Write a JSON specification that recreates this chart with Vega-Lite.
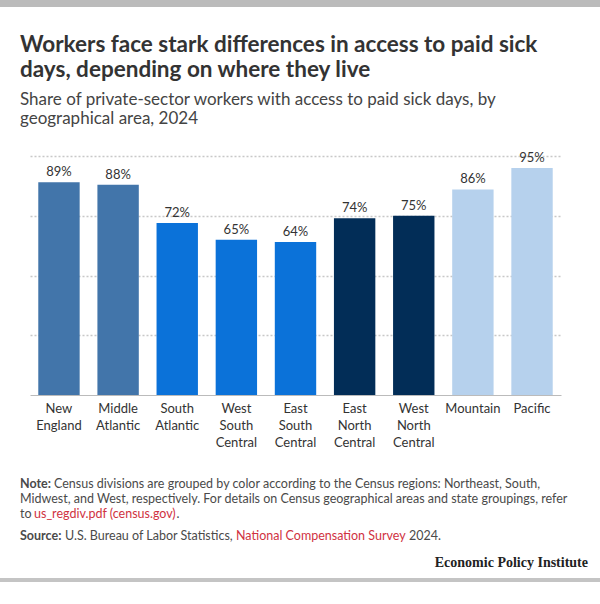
{
  "$schema": "https://vega.github.io/schema/vega-lite/v6.json",
  "width": 531,
  "height": 239,
  "autosize": {"type": "none"},
  "padding": {"left": 30, "top": 156, "right": 39, "bottom": 209},
  "background": "white",
  "title": {
    "text": ["Workers face stark differences in access to paid sick", "days, depending on where they live"],
    "subtitle": ["Share of private-sector workers with access to paid sick days, by", "geographical area, 2024"],
    "anchor": "start",
    "frame": "group",
    "dx": -10,
    "offset": -127,
    "font": "Lato",
    "fontSize": 22.5,
    "fontWeight": "bold",
    "color": "#333333",
    "lineHeight": 25,
    "subtitleFont": "Lato",
    "subtitleFontSize": 17,
    "subtitleColor": "#444444",
    "subtitleLineHeight": 19,
    "subtitlePadding": 11
  },
  "layer": [
    {
      "data": {"name": "divisions", "values": [
        {"division": "New England", "region": "Northeast", "share": 0.89},
        {"division": "Middle Atlantic", "region": "Northeast", "share": 0.88},
        {"division": "South Atlantic", "region": "South", "share": 0.72},
        {"division": "West South Central", "region": "South", "share": 0.65},
        {"division": "East South Central", "region": "South", "share": 0.64},
        {"division": "East North Central", "region": "Midwest", "share": 0.74},
        {"division": "West North Central", "region": "Midwest", "share": 0.75},
        {"division": "Mountain", "region": "West", "share": 0.86},
        {"division": "Pacific", "region": "West", "share": 0.95}
      ]},
      "encoding": {
        "x": {
          "field": "division",
          "type": "nominal",
          "sort": null,
          "scale": {"paddingInner": 0.3, "paddingOuter": 0.14},
          "axis": {
            "title": null,
            "labelAngle": 0,
            "labelExpr": "split(datum.value, ' ')",
            "labelFont": "Lato",
            "labelFontSize": 13,
            "labelColor": "#333333",
            "labelLineHeight": 17,
            "labelPadding": 7,
            "ticks": false,
            "domainColor": "#bbbbbb",
            "domainWidth": 1,
            "grid": false
          }
        },
        "y": {
          "field": "share",
          "type": "quantitative",
          "scale": {"domain": [0, 1], "nice": false},
          "axis": {
            "title": null,
            "labels": false,
            "ticks": false,
            "domain": false,
            "values": [0.25, 0.5, 0.75, 1],
            "grid": true,
            "gridColor": "#c8c8c8",
            "gridDash": [2, 2],
            "gridWidth": 1.5
          }
        }
      },
      "layer": [
        {
          "mark": {"type": "bar"},
          "encoding": {
            "color": {
              "field": "region",
              "type": "nominal",
              "scale": {
                "domain": ["Northeast", "South", "Midwest", "West"],
                "range": ["#4275aa", "#0b72d9", "#022d57", "#b6d1ed"]
              },
              "legend": null
            }
          }
        },
        {
          "mark": {"type": "text", "baseline": "alphabetic", "dy": -6, "font": "Lato", "fontSize": 13, "color": "#333333"},
          "encoding": {
            "text": {"field": "share", "type": "quantitative", "format": ".0%"}
          }
        }
      ]
    },
    {
      "data": {"values": [{}]},
      "layer": [
        {"mark": {"type": "rect", "x": -30, "x2": 570, "y": -156, "y2": -149, "color": "#bbbbbb"}, "encoding": {}},
        {"mark": {"type": "rect", "x": -30, "x2": 570, "y": 422, "y2": 426, "color": "#c4c4c4"}, "encoding": {}},
        {"mark": {"type": "text", "text": "Note:", "x": -10, "y": 332, "align": "left", "baseline": "alphabetic", "font": "Lato", "fontSize": 12.5, "fontWeight": "bold", "color": "#4a4a4a"}, "encoding": {}},
        {"mark": {"type": "text", "text": "Census divisions are grouped by color according to the Census regions: Northeast, South,", "x": 24, "y": 332, "align": "left", "baseline": "alphabetic", "font": "Lato", "fontSize": 12.5, "color": "#4a4a4a"}, "encoding": {}},
        {"mark": {"type": "text", "text": "Midwest, and West, respectively. For details on Census geographical areas and state groupings, refer", "x": -10, "y": 347, "align": "left", "baseline": "alphabetic", "font": "Lato", "fontSize": 12.5, "color": "#4a4a4a"}, "encoding": {}},
        {"mark": {"type": "text", "text": "to", "x": -10, "y": 362, "align": "left", "baseline": "alphabetic", "font": "Lato", "fontSize": 12.5, "color": "#4a4a4a"}, "encoding": {}},
        {"mark": {"type": "text", "text": "us_regdiv.pdf (census.gov)", "x": 4, "y": 362, "align": "left", "baseline": "alphabetic", "font": "Lato", "fontSize": 12.5, "color": "#d0323f"}, "encoding": {}},
        {"mark": {"type": "text", "text": ".", "x": 146.5, "y": 362, "align": "left", "baseline": "alphabetic", "font": "Lato", "fontSize": 12.5, "color": "#4a4a4a"}, "encoding": {}},
        {"mark": {"type": "text", "text": "Source:", "x": -10, "y": 384, "align": "left", "baseline": "alphabetic", "font": "Lato", "fontSize": 12.5, "fontWeight": "bold", "color": "#4a4a4a"}, "encoding": {}},
        {"mark": {"type": "text", "text": "U.S. Bureau of Labor Statistics,", "x": 35, "y": 384, "align": "left", "baseline": "alphabetic", "font": "Lato", "fontSize": 12.5, "color": "#4a4a4a"}, "encoding": {}},
        {"mark": {"type": "text", "text": "National Compensation Survey", "x": 206, "y": 384, "align": "left", "baseline": "alphabetic", "font": "Lato", "fontSize": 12.5, "color": "#d0323f"}, "encoding": {}},
        {"mark": {"type": "text", "text": "2024.", "x": 379, "y": 384, "align": "left", "baseline": "alphabetic", "font": "Lato", "fontSize": 12.5, "color": "#4a4a4a"}, "encoding": {}},
        {"mark": {"type": "text", "text": "Economic Policy Institute", "x": 558, "y": 410.5, "align": "right", "baseline": "alphabetic", "font": "Liberation Serif", "fontSize": 14, "fontWeight": "bold", "color": "#222222"}, "encoding": {}}
      ]
    }
  ],
  "config": {
    "view": {"stroke": null},
    "font": "Lato"
  }
}
